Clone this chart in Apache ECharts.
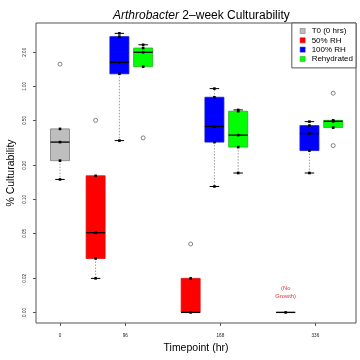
<!DOCTYPE html>
<html><head><meta charset="utf-8">
<script src="https://cdn.jsdelivr.net/npm/echarts@6/dist/echarts.min.js"></script>
<style>html,body{margin:0;padding:0;background:#fff}#c{width:360px;height:360px}</style>
</head><body><div id="c"></div>
<script>
// ---- data ----
const timepoints = ['0', '96', '168', '336'];
const treatments = ['T0 (0 hrs)', '50% RH', '100% RH', 'Rehydrated'];
// five-number summaries [min, q1, median, q3, max] per timepoint (null = not measured)
const t0Stats    = [[0.150, 0.220, 0.321, 0.420, 0.420], null, null, null];
const rh50Stats  = [null, [0.020, 0.030, 0.0507, 0.1615, 0.1615], [0.010, 0.010, 0.010, 0.020, 0.020], [0.010, 0.010, 0.010, 0.010, 0.010]];
const rh100Stats = [null, [0.331, 1.29, 1.63, 2.75, 2.94], [0.130, 0.321, 0.441, 0.800, 0.954], [0.171, 0.270, 0.382, 0.449, 0.487]];
const rehydStats = [null, [1.49, 1.49, 2.00, 2.18, 2.33], [0.171, 0.290, 0.370, 0.602, 0.618], [0.431, 0.431, 0.490, 0.500, 0.500]];
const t0Outliers    = [[1.57], [], [], []];
const rh50Outliers  = [[], [0.50], [0.0403], []];
const rh100Outliers = [[], [], [], []];
const rehydOutliers = [[], [0.350], [], [0.869, 0.299]];
const rh50Notes = [null, null, null, '(No\nGrowth)'];
const yTicks = [0.01, 0.02, 0.05, 0.10, 0.20, 0.50, 1.00, 2.00];
const yTickLabels = ['0.00', '0.02', '0.05', '0.10', '0.20', '0.50', '1.00', '2.00'];

// ---- layout ----
const groupStart = [0, 1.5, 5.5, 9.5];
const tickPos = [0, 2.75, 6.75, 10.75];
const FONT = 'Liberation Sans';
const colors = [
  {fill: '#BEBEBE', border: '#7c7c7c'},
  {fill: '#FF0000', border: '#d81010'},
  {fill: '#0000FF', border: '#1818c8'},
  {fill: '#00FF00', border: '#22b022'}
];

function makeSeries(k, stats, outliers, notes) {
  const data = [], extra = [];
  stats.forEach((s, i) => {
    if (!s) return;
    data.push([groupStart[i] + (k === 0 ? 0 : k - 1)].concat(s));
    extra.push({out: outliers[i] || [], note: notes ? notes[i] : null});
  });
  const c = colors[k];
  return {
    type: 'custom', name: treatments[k], data: data,
    itemStyle: {color: c.fill, borderColor: c.border},
    encode: {x: 0, y: [1, 2, 3, 4, 5]},
    clip: false,
    renderItem: function (params, api) {
      const x = api.value(0);
      const v = [1, 2, 3, 4, 5].map(i => api.value(i));
      const P = val => api.coord([x, val]);
      const cx = P(v[2])[0];
      const hw = api.coord([x + 0.4, v[2]])[0] - cx;
      const yy = v.map(val => P(val)[1]);
      const ch = [];
      const dotted = {stroke: '#9a9a9a', lineWidth: 1, lineDash: [1.5, 1.5]};
      const cap = {stroke: '#000', lineWidth: 1};
      if (v[0] < v[1]) {
        ch.push({type: 'line', shape: {x1: cx, y1: yy[1], x2: cx, y2: yy[0]}, style: dotted});
        ch.push({type: 'line', shape: {x1: cx - hw / 2, y1: yy[0], x2: cx + hw / 2, y2: yy[0]}, style: cap});
      }
      if (v[4] > v[3]) {
        ch.push({type: 'line', shape: {x1: cx, y1: yy[3], x2: cx, y2: yy[4]}, style: dotted});
        ch.push({type: 'line', shape: {x1: cx - hw / 2, y1: yy[4], x2: cx + hw / 2, y2: yy[4]}, style: cap});
      }
      ch.push({type: 'rect', shape: {x: cx - hw, y: yy[3], width: 2 * hw, height: yy[1] - yy[3]},
        style: {fill: c.fill, stroke: c.border, lineWidth: 0.8}});
      ch.push({type: 'line', shape: {x1: cx - hw, y1: yy[2], x2: cx + hw, y2: yy[2]}, style: {stroke: '#000', lineWidth: 1.3}});
      const seen = [];
      v.forEach((val, i) => {
        if (seen.indexOf(val) >= 0) return;
        seen.push(val);
        ch.push({type: 'rect', shape: {x: cx - 1.3, y: yy[i] - 1.3, width: 2.6, height: 2.6}, style: {fill: '#000'}});
      });
      const ex = extra[params.dataIndex];
      ex.out.forEach(o => {
        const p = P(o);
        ch.push({type: 'circle', shape: {cx: p[0], cy: p[1], r: 2}, style: {fill: 'none', stroke: '#666', lineWidth: 0.8}});
      });
      if (ex.note) {
        ch.push({type: 'text', x: cx, y: yy[2] - 20, style: {text: ex.note, fill: '#e03030', fontSize: 5.8,
          fontFamily: FONT, align: 'center', verticalAlign: 'middle', lineHeight: 7.7}});
      }
      return {type: 'group', children: ch};
    }
  };
}

const chart = echarts.init(document.getElementById('c'), null, {renderer: 'canvas'});
chart.setOption({
  animation: false,
  backgroundColor: '#fff',
  title: {
    text: '{i|Arthrobacter} 2\u2013week Culturability',
    left: 108, top: 5,
    textStyle: {fontSize: 12, fontWeight: 'normal', fontFamily: FONT, color: '#000',
      rich: {i: {fontStyle: 'italic', fontSize: 12, fontFamily: FONT, color: '#000'}}}
  },
  legend: {
    orient: 'vertical', right: 4, top: 23, itemWidth: 5, itemHeight: 5, itemGap: 1.3,
    padding: [4, 3, 5, 8], borderColor: '#555', borderWidth: 1, backgroundColor: '#fff', borderRadius: 0,
    selectedMode: false,
    textStyle: {fontSize: 8, fontFamily: FONT, color: '#000', lineHeight: 8, padding: [0, 0, 0, 1.5]},
    data: treatments.map((n, k) => ({name: n, icon: 'rect',
      itemStyle: {color: colors[k].fill, borderColor: colors[k].border, borderWidth: 0.6}}))
  },
  grid: {left: 36, right: 4, top: 23, bottom: 37, show: true, borderColor: '#555', borderWidth: 1,
    backgroundColor: 'transparent', containLabel: false, outerBoundsMode: 'none'},
  xAxis: {
    type: 'value', min: -1.01, max: 12.46,
    axisLine: {show: false, onZero: false}, splitLine: {show: false},
    axisTick: {show: true, customValues: tickPos, length: 3, lineStyle: {color: '#555'}},
    axisLabel: {customValues: tickPos, margin: 10, fontSize: 4.6, fontFamily: FONT, color: '#222',
      formatter: val => { const i = tickPos.findIndex(t => Math.abs(t - val) < 1e-6); return i >= 0 ? timepoints[i] : ''; }},
    name: 'Timepoint (hr)', nameLocation: 'middle', nameGap: 19,
    nameTextStyle: {fontSize: 10.5, fontFamily: FONT, color: '#000'}
  },
  yAxis: {
    type: 'log', logBase: 10, min: 0.00806, max: 3.63,
    axisLine: {show: false, onZero: false}, splitLine: {show: false}, minorTick: {show: false},
    axisTick: {show: true, customValues: yTicks, length: 3, lineStyle: {color: '#555'}},
    axisLabel: {customValues: yTicks, rotate: 90, margin: 8.5, fontSize: 4.6, fontFamily: FONT, color: '#222',
      formatter: val => { const i = yTicks.findIndex(t => Math.abs(Math.log10(t) - Math.log10(val)) < 1e-4); return i >= 0 ? yTickLabels[i] : ''; }},
    name: '% Culturability', nameLocation: 'middle', nameGap: 19.5, nameRotate: 90, nameMoveOverlap: false,
    nameTextStyle: {fontSize: 10.5, fontFamily: FONT, color: '#000'}
  },
  series: [
    makeSeries(0, t0Stats, t0Outliers, null),
    makeSeries(1, rh50Stats, rh50Outliers, rh50Notes),
    makeSeries(2, rh100Stats, rh100Outliers, null),
    makeSeries(3, rehydStats, rehydOutliers, null)
  ]
});
</script></body></html>
